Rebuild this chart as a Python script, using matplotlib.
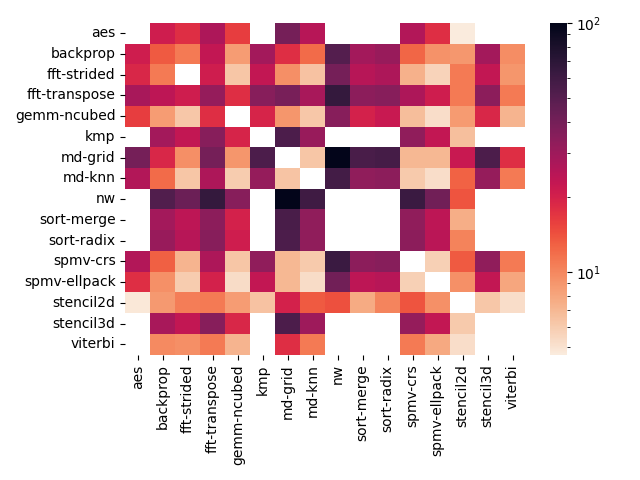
import matplotlib
matplotlib.use("Agg")
import matplotlib.pyplot as plt
import numpy as np
import seaborn as sns
from matplotlib.colors import LogNorm

names = ["aes", "backprop", "fft-strided", "fft-transpose", "gemm-ncubed", "kmp",
         "md-grid", "md-knn", "nw", "sort-merge", "sort-radix", "spmv-crs",
         "spmv-ellpack", "stencil2d", "stencil3d", "viterbi"]

nan = np.nan
# rows: benchmark on y axis, columns: benchmark on x axis
aes          = [nan, 21, 18, 27, 16, nan, 40, 25, nan, nan, nan, 26, 18, 4.65, nan, nan]
backprop     = [21, 13.5, 11, 23, 8.6, 29, 18, 12, 51, 29, 31, 12.5, 9.3, 8.9, 29, 9.6]
fft_strided  = [19, 11, nan, 21, 6.3, 23, 9.5, 6.5, 40, 25, 27, 7.4, 5.7, 11, 23, 9]
fft_transpose= [28, 24, 21, 32, 18, 35, 39, 28, 65, 34, 35, 27, 21, 11, 34, 11]
gemm_ncubed  = [16, 8.6, 6.2, 18, nan, 19.5, 9, 6.2, 35, 20, 22, 6.7, 5.2, 8.7, 19, 7.2]
kmp          = [nan, 29, 23, 35, 19.5, nan, 54, 31, nan, nan, nan, 33, 23, 6.6, nan, nan]
md_grid      = [40, 19, 9.5, 40, 9, 54, nan, 6.3, 100, 55, 57, 7, 7, 22, 54, 18]
md_knn       = [26, 12, 6.3, 27, 6, 32, 6.4, nan, 58, 33, 34, 6.1, 5.2, 12.8, 32, 11]
nw           = [nan, 52, 43, 65, 35, nan, 100, 60, nan, nan, nan, 62, 41, 14, nan, nan]
sort_merge   = [nan, 29, 24, 34, 20, nan, 55, 33, nan, nan, nan, 33, 24, 7.6, nan, nan]
sort_radix   = [nan, 31, 25, 35, 21, nan, 54, 33, nan, nan, nan, 34, 24.5, 10.3, nan, nan]
spmv_crs     = [26, 13, 7.2, 27, 6.3, 33, 7, 6.1, 62, 34, 35, nan, 5.8, 13.5, 33, 11]
spmv_ellpack = [18, 9.4, 6, 20, 5.3, 23, 7, 5.3, 41, 24, 25, 5.8, nan, 9.4, 23, 8]
stencil2d    = [4.8, 8.8, 10.7, 11, 8.6, 6.5, 20, 13.5, 14.3, 7.7, 10.2, 14, 9.4, nan, 6.2, 5.2]
stencil3d    = [nan, 28, 23, 35, 19, nan, 54, 30, nan, nan, nan, 32, 23, 6.1, nan, nan]
viterbi      = [nan, 9.8, 9.5, 11, 7.2, nan, 18, 11, nan, nan, nan, 11, 7.8, 5.2, nan, nan]

data = np.array([aes, backprop, fft_strided, fft_transpose, gemm_ncubed, kmp,
                 md_grid, md_knn, nw, sort_merge, sort_radix, spmv_crs,
                 spmv_ellpack, stencil2d, stencil3d, viterbi])

fig, ax = plt.subplots(figsize=(6.4, 4.8), dpi=100)
sns.heatmap(data, ax=ax, cmap="rocket_r",
            norm=LogNorm(vmin=np.nanmin(data), vmax=np.nanmax(data)),
            xticklabels=names, yticklabels=names)
plt.tight_layout()
plt.savefig("out.png")
